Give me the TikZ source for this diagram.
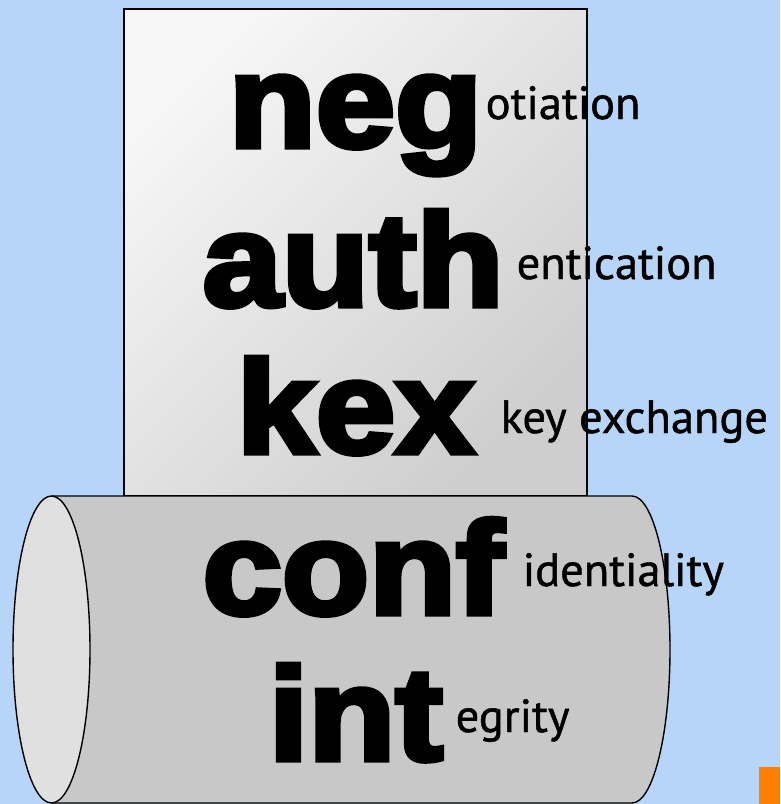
\documentclass[tikz,border=0pt]{standalone}
\usepackage{fontspec}
\usepackage{tikz}
\newfontfamily\heavyfont[FakeBold=4]{Liberation Sans Bold}
\newfontfamily\smallfont[FakeBold=1]{PT Sans}
\newcommand\abbr[1]{\scalebox{1.08}[1]{#1}}
\definecolor{slidebg}{RGB}{183,213,248}
\definecolor{boxlight}{RGB}{246,246,246}
\definecolor{boxdark}{RGB}{206,206,206}
\definecolor{cylbody}{RGB}{200,200,200}
\definecolor{cylcap}{RGB}{224,224,224}
\definecolor{taborange}{RGB}{255,127,0}

\begin{document}
\begin{tikzpicture}[x=1pt,y=-1pt,line width=1.4pt,
    big/.style={anchor=base west,inner sep=0pt,font=\heavyfont\fontsize{132}{132}\selectfont},
    tail/.style={anchor=base west,inner sep=0pt,font=\smallfont\fontsize{46.5}{46.5}\selectfont}]
    % Slide background
    \fill[slidebg] (0,0) rectangle (780,804);
    \useasboundingbox (0,0) rectangle (780,804);
    \fill[taborange] (759,767) rectangle (780,804);

    % Upper box (session layer)
    \shade[top color=boxlight, bottom color=boxdark, shading angle=45] (124,9) rectangle (587,496);
    \draw (124,9) rectangle (587,496);

    % Lower cylinder (record layer)
    \fill[cylbody] (52,496) -- (632,496) arc[start angle=-90, end angle=90, x radius=38, y radius=153.5] -- (52,803) -- cycle;
    \draw (52,496) -- (632,496) arc[start angle=-90, end angle=90, x radius=38, y radius=153.5] -- (52,803);
    \draw[fill=cylcap] (51.5,649.5) ellipse[x radius=38.5, y radius=153.5];

    % Abbreviations and their endings
    \node[big] (neg) at (228,147) {\abbr{neg}};
    \node[tail] (negend) at (485,119) {otiation};
    \node[big] (auth) at (202,306) {\abbr{auth}};
    \node[tail] (authend) at (516,279) {entication};
    \node[big] (kex) at (236,453) {\abbr{kex}};
    \node[tail] (kexend) at (500,433) {key exchange};
    \node[big] (conf) at (202,614) {\abbr{conf}};
    \node[tail] (confend) at (522,586) {identiality};
    \node[big] (int) at (268,760) {\abbr{int}};
    \node[tail] (intend) at (455,732) {egrity};
\end{tikzpicture}
\end{document}
